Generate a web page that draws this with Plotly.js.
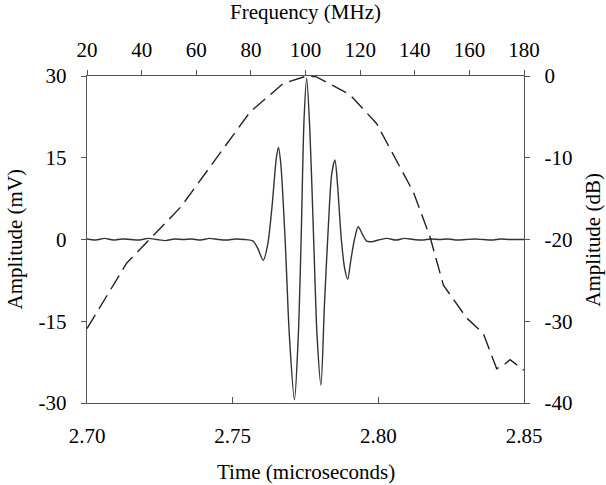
<!DOCTYPE html>
<html>
<head>
<meta charset="utf-8">
<script src="https://cdn.plot.ly/plotly-3.0.1.min.js"></script>
<style>html,body{margin:0;padding:0;background:#fff;}#chart{width:606px;height:485px;}</style>
</head>
<body>
<div id="chart"></div>
<script>
// Time-domain waveform (microseconds, mV)
var timeUs = [2.700, 2.703, 2.706, 2.709, 2.712, 2.715, 2.718, 2.721, 2.724, 2.727,
  2.730, 2.733, 2.736, 2.739, 2.742, 2.745, 2.748, 2.751, 2.754, 2.757,
  2.7585, 2.7605, 2.7620, 2.7635, 2.7650, 2.7657, 2.7665, 2.7680, 2.7695, 2.7712,
  2.7725, 2.7735, 2.7745, 2.7754, 2.7765, 2.7778, 2.7790, 2.7803, 2.7815, 2.7828,
  2.7840, 2.7851, 2.7860, 2.7873, 2.7885, 2.7895, 2.7905, 2.7918, 2.7931, 2.7945,
  2.7960, 2.7977, 2.800, 2.803, 2.806, 2.809, 2.812, 2.815, 2.818, 2.821,
  2.824, 2.827, 2.830, 2.833, 2.836, 2.839, 2.842, 2.845, 2.848, 2.850];
var ampMv = [0.1, -0.1, 0.2, -0.1, 0.1, 0.0, -0.1, 0.2, 0.0, -0.2,
  0.1, 0.0, 0.1, -0.1, 0.2, 0.0, -0.1, 0.1, 0.0, -0.3,
  -1.5, -3.8, -1.0, 6.0, 15.0, 16.9, 14.0, 0.0, -18.0, -29.4,
  -18.0, 0.0, 22.0, 29.6, 20.0, 0.0, -18.0, -26.7, -12.0, 2.0,
  12.0, 14.6, 10.0, 0.0, -5.5, -7.3, -4.0, 0.0, 2.35, 1.0,
  -0.3, -0.4, -0.1, 0.2, -0.1, 0.2, 0.0, -0.1, 0.1, 0.0,
  0.1, -0.1, 0.0, 0.1, 0.0, -0.1, 0.1, 0.0, 0.0, 0.0];

// Frequency spectrum (MHz, dB)
var freqMhz = [20, 34.5, 54.4, 68.7, 79.7, 91.9, 100.4, 104, 116.3, 126,
  134.6, 139.5, 145.6, 150.5, 159, 165.1, 170, 172.4, 174.9, 180];
var ampDb = [-30.9, -22.9, -16.0, -9.5, -4.4, -0.9, 0, -0.1, -2.3, -5.8,
  -11.1, -14.2, -19.7, -25.6, -29.6, -31.5, -35.8, -35.4, -34.7, -36.0];

var timeTicks = [2.70, 2.75, 2.80, 2.85];
var timeTickText = ['2.70', '2.75', '2.80', '2.85'];
var mvTicks = [-30, -15, 0, 15, 30];
var mvTickText = ['-30', '-15', '0', '15', '30'];
var dbTicks = [-40, -30, -20, -10, 0];
var dbTickText = ['-40', '-30', '-20', '-10', '0'];
var freqTicks = [20, 40, 60, 80, 100, 120, 140, 160, 180];

var fontFam = '"Liberation Serif", "Times New Roman", serif';
var tickFont = {family: fontFam, size: 21, color: '#000'};
var titleFont = {family: fontFam, size: 21, color: '#000'};
var axisColor = '#555';

var traces = [
  {x: timeUs, y: ampMv, xaxis: 'x', yaxis: 'y', type: 'scatter', mode: 'lines',
   line: {color: '#333', width: 1.4, shape: 'spline', smoothing: 0.8}, hoverinfo: 'skip'},
  {x: freqMhz, y: ampDb, xaxis: 'x2', yaxis: 'y2', type: 'scatter', mode: 'lines',
   line: {color: '#222', width: 1.4, dash: '16px,7px'}, hoverinfo: 'skip'}
];

var layout = {
  width: 606, height: 485,
  margin: {l: 87, r: 82, t: 76, b: 82, pad: 0},
  paper_bgcolor: '#fff', plot_bgcolor: '#fff',
  showlegend: false,
  xaxis: {range: [2.70, 2.85], tickvals: timeTicks, ticktext: timeTickText,
    ticks: 'inside', ticklen: 6, tickcolor: axisColor, showline: true, linecolor: axisColor, linewidth: 1.3,
    showgrid: false, zeroline: false, tickfont: tickFont, ticklabelstandoff: 13},
  xaxis2: {range: [20, 180], tickvals: freqTicks, overlaying: 'x', side: 'top', anchor: 'y',
    ticks: 'outside', ticklen: 5, tickcolor: axisColor, showline: true, linecolor: axisColor, linewidth: 1.3,
    showgrid: false, zeroline: false, tickfont: tickFont, ticklabelstandoff: 4,
    title: {text: 'Frequency (MHz)', font: titleFont}},
  yaxis: {range: [-30, 30], tickvals: mvTicks, ticktext: mvTickText, ticks: 'outside', ticklen: 5, tickcolor: axisColor,
    showline: true, linecolor: axisColor, linewidth: 1.3, showgrid: false, zeroline: false,
    tickfont: tickFont, ticklabelstandoff: 10},
  yaxis2: {range: [-40, 0], tickvals: dbTicks, ticktext: dbTickText, overlaying: 'y', side: 'right', anchor: 'x',
    ticks: 'outside', ticklen: 5, tickcolor: axisColor,
    showline: true, linecolor: axisColor, linewidth: 1.3, showgrid: false, zeroline: false,
    tickfont: tickFont, ticklabelstandoff: 10},
  annotations: [
    {text: 'Time (microseconds)', xref: 'paper', yref: 'paper', x: 0.5, y: -0.211,
     xanchor: 'center', yanchor: 'middle', showarrow: false, font: titleFont},
    {text: 'Amplitude (mV)', xref: 'paper', yref: 'paper', x: -0.167, y: 0.5, textangle: -90,
     xanchor: 'center', yanchor: 'middle', showarrow: false, font: titleFont},
    {text: 'Amplitude (dB)', xref: 'paper', yref: 'paper', x: 1.156, y: 0.5, textangle: -90,
     xanchor: 'center', yanchor: 'middle', showarrow: false, font: titleFont}
  ]
};

Plotly.newPlot('chart', traces, layout, {displayModeBar: false, staticPlot: true});
</script>
</body>
</html>
